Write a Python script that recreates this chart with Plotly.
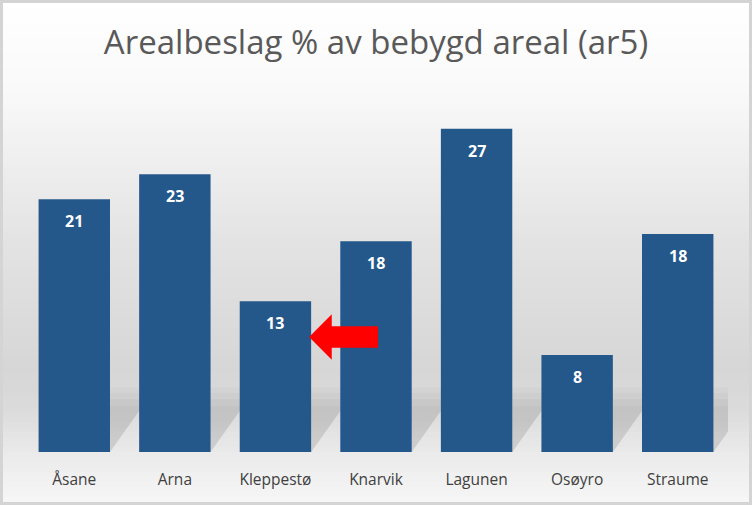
import plotly.graph_objects as go

categories = ["Åsane", "Arna", "Kleppestø", "Knarvik", "Lagunen", "Osøyro", "Straume"]
values = [21.1, 23.2, 12.6, 17.6, 27.0, 8.1, 18.2]
labels = ["21", "23", "13", "18", "27", "8", "18"]
title_text = "Arealbeslag % av bebygd areal (ar5)"

W, H = 752, 505
ML, MR, MT, MB = 24, 24, 100, 53
PW, PH = W - ML - MR, H - MT - MB
YMAX = 29.4

def px_to_paper_x(px):
    return (px - ML) / PW

def px_to_paper_y(py):
    return (H - MB - py) / PH

def lerp(a, b, t):
    return a + (b - a) * t

# background gradient stops (pixel y, gray level)
stops = [(0, 255), (90, 249), (250, 226), (370, 214), (410, 219), (455, 235), (505, 247)]

def gray_at(py):
    for (y0, g0), (y1, g1) in zip(stops[:-1], stops[1:]):
        if y0 <= py <= y1:
            return lerp(g0, g1, (py - y0) / (y1 - y0))
    return stops[-1][1]

shapes = []
border = 3
n = 100
step = (H - 2 * border) / n
for i in range(n):
    y0 = border + step * i
    y1 = min(border + step * (i + 1) + 1.5, H - border)
    g = int(round(gray_at(y0 + step / 2)))
    shapes.append(dict(
        type="rect", xref="paper", yref="paper", layer="below",
        x0=px_to_paper_x(border), x1=px_to_paper_x(W - border),
        y0=px_to_paper_y(y1), y1=px_to_paper_y(y0),
        fillcolor=f"rgb({g},{g},{g})", line=dict(width=0),
    ))

# soft perspective shadows behind bars
half = 0.355
for i, v in enumerate(values):
    for dx, hgt, op in [(0.46, 5.4, 0.04), (0.42, 4.9, 0.05), (0.37, 4.4, 0.055), (0.32, 3.8, 0.055)]:
        path = (f"M {i - half},0 L {i + half},0 "
                f"L {i + half + dx},{hgt} L {i - half + dx},{hgt} Z")
        shapes.append(dict(
            type="path", xref="x", yref="y", layer="below", path=path,
            fillcolor=f"rgba(90,90,90,{op})", line=dict(width=0),
        ))

# red arrow pointing at Kleppestø
ai = categories.index("Kleppestø")
tip_x, head_x, end_x = ai + 0.335, ai + 0.56, ai + 1.02
yc = values[ai] - 3.0
head_h, body_h = 1.9, 0.9
arrow = (f"M {tip_x},{yc} L {head_x},{yc + head_h} L {head_x},{yc + body_h} "
         f"L {end_x},{yc + body_h} L {end_x},{yc - body_h} L {head_x},{yc - body_h} "
         f"L {head_x},{yc - head_h} Z")
shapes.append(dict(type="path", xref="x", yref="y", layer="above", path=arrow,
                   fillcolor="#ff0000", line=dict(width=0)))

fig = go.Figure()
fig.add_trace(go.Bar(
    x=categories, y=values,
    marker=dict(color="#24578a", line=dict(width=0)),
    width=0.71, hoverinfo="skip",
))

annotations = []
for c, v, t in zip(categories, values, labels):
    annotations.append(dict(
        x=c, y=v, xref="x", yref="y", text=f"<b>{t}</b>", showarrow=False,
        yanchor="top", yshift=-9,
        font=dict(family="Open Sans", size=16, color="white"),
    ))

fig.update_layout(
    width=W, height=H,
    margin=dict(l=ML, r=MR, t=MT, b=MB),
    paper_bgcolor="#d4d4d4",
    plot_bgcolor="rgba(0,0,0,0)",
    title=dict(text=title_text, x=0.5, xanchor="center", y=1 - 42 / H, yanchor="middle",
               font=dict(family="Open Sans", size=33, color="#595959")),
    xaxis=dict(showgrid=False, zeroline=False, showline=False,
               ticks="outside", ticklen=13, tickcolor="rgba(0,0,0,0)",
               tickfont=dict(family="Open Sans", size=15.5, color="#404040"),
               range=[-0.5, len(categories) - 0.5]),
    yaxis=dict(showgrid=False, zeroline=False, showline=False, showticklabels=False,
               range=[0, YMAX], fixedrange=True),
    shapes=shapes,
    annotations=annotations,
    showlegend=False,
)

fig.write_html("out.html", config={"displayModeBar": False},
               post_script="document.body.style.margin='0';")
